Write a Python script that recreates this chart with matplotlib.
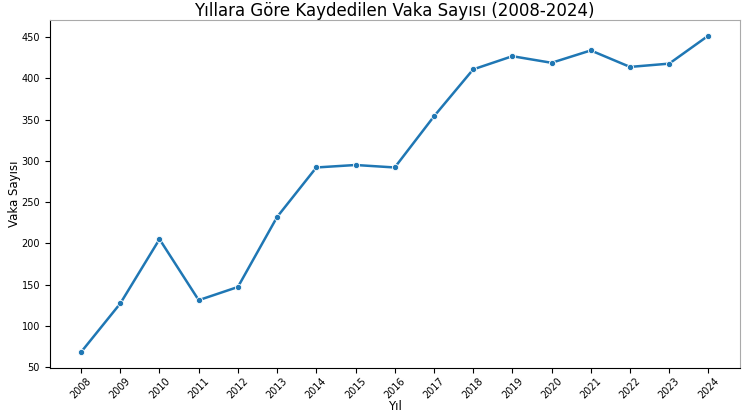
import matplotlib
matplotlib.use("Agg")
import matplotlib.pyplot as plt

years = [2008, 2009, 2010, 2011, 2012, 2013, 2014, 2015, 2016, 2017,
         2018, 2019, 2020, 2021, 2022, 2023, 2024]
cases = [68, 127, 205, 131, 147, 232, 292, 295, 292, 354,
         411, 427, 419, 434, 414, 418, 452]
title = "Yıllara Göre Kaydedilen Vaka Sayısı (2008-2024)"
xlabel = "Yıl"
ylabel = "Vaka Sayısı"

fig = plt.figure(figsize=(7.42, 4.12), dpi=100)
ax = fig.add_axes([0.067, 0.107, 0.930, 0.845])
ax.plot(years, cases, color="#1f77b4", lw=1.8, marker="o", markersize=4.5,
        markeredgecolor="white", markeredgewidth=0.6)
ax.set_xticks(years)
ax.set_xticklabels([str(y) for y in years], rotation=45, fontsize=7)
ax.tick_params(axis="x", pad=2)
ax.tick_params(axis="y", labelsize=7)
ax.set_yticks([50, 100, 150, 200, 250, 300, 350, 400, 450])
ax.set_title(title, fontsize=12, pad=3)
ax.set_xlabel(xlabel, fontsize=8.5, labelpad=0)
ax.set_ylabel(ylabel, fontsize=8.5)
ax.yaxis.set_label_coords(-0.042, 0.5)
for s in ["top", "right"]:
    ax.spines[s].set_color("#aaaaaa")
fig.savefig("out.png", dpi=100)
